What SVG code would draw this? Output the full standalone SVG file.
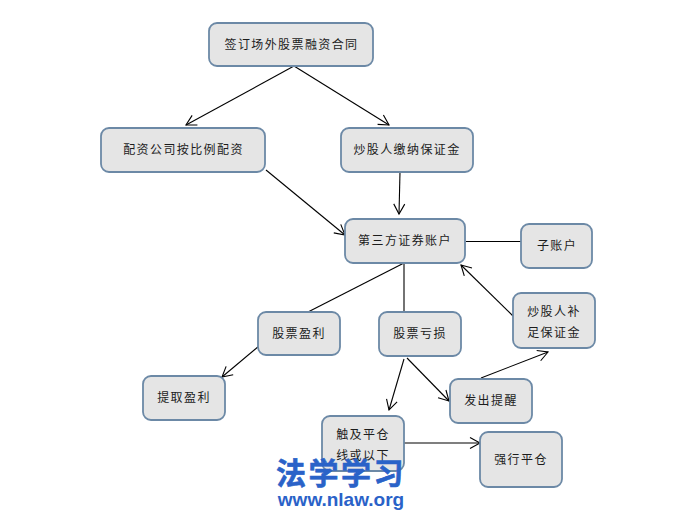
<svg xmlns="http://www.w3.org/2000/svg" width="683" height="518" viewBox="0 0 683 518">
<style>
.n{fill:#e5e5e5;stroke:#6c89a6;stroke-width:1.8}
.t{font-family:"Noto Sans CJK SC","Noto Sans",sans-serif;font-size:12px;letter-spacing:1.4px;fill:#1c1c1c;text-anchor:middle}
.c{fill:none;stroke:#000;stroke-width:1.1}
.w{font-weight:700;fill:#2a62c8;text-anchor:middle}
</style>
<defs>
<marker id="a" markerUnits="userSpaceOnUse" markerWidth="14" markerHeight="14" refX="11" refY="7" orient="auto"><path d="M1 1.5L11 7L1 12.500" fill="none" stroke="#000" stroke-width="1.1"/></marker>
</defs>
<rect width="683" height="518" fill="#fff"/>
<g id="connectors">
<path class="c" d="M294 66L186 125" marker-end="url(#a)"/>
<path class="c" d="M294 66L389 125" marker-end="url(#a)"/>
<path class="c" d="M266 170L345 235" marker-end="url(#a)"/>
<path class="c" d="M400 172L399 214" marker-end="url(#a)"/>
<path class="c" d="M466 241.500H521"/>
<path class="c" d="M404 263V312"/>
<path class="c" d="M404 263L308 312"/>
<path class="c" d="M513 316L461 265" marker-end="url(#a)"/>
<path class="c" d="M259 346L222 377" marker-end="url(#a)"/>
<path class="c" d="M404 359L389 410" marker-end="url(#a)"/>
<path class="c" d="M407 358L449 401" marker-end="url(#a)"/>
<path class="c" d="M481 378L548 352" marker-end="url(#a)"/>
<path class="c" d="M404 443H480" marker-end="url(#a)"/>
</g>
<g id="n1"><rect class="n" x="209" y="23" width="164" height="43" rx="8"/><text class="t" x="291.500" y="49">签订场外股票融资合同</text></g>
<g id="n2"><rect class="n" x="101" y="128" width="164" height="44" rx="8"/><text class="t" x="183.500" y="154">配资公司按比例配资</text></g>
<g id="n3"><rect class="n" x="341" y="128" width="132" height="44" rx="8"/><text class="t" x="407" y="154">炒股人缴纳保证金</text></g>
<g id="n4"><rect class="n" x="345" y="219" width="120" height="44" rx="8"/><text class="t" x="405" y="245">第三方证券账户</text></g>
<g id="n5"><rect class="n" x="521" y="224" width="71" height="44" rx="8"/><text class="t" x="557" y="250">子账户</text></g>
<g id="n6"><rect class="n" x="513" y="293" width="82" height="55" rx="8"/><text class="t" x="554" y="316">炒股人补</text><text class="t" x="554" y="337">足保证金</text></g>
<g id="n7"><rect class="n" x="379" y="312" width="82" height="44" rx="8"/><text class="t" x="420" y="338">股票亏损</text></g>
<g id="n8"><rect class="n" x="258" y="312" width="82" height="43" rx="8"/><text class="t" x="299" y="338">股票盈利</text></g>
<g id="n9"><rect class="n" x="143" y="376" width="82" height="44" rx="8"/><text class="t" x="184" y="402">提取盈利</text></g>
<g id="n10"><rect class="n" x="450" y="379" width="82" height="44" rx="8"/><text class="t" x="491" y="405">发出提醒</text></g>
<g id="n11"><rect class="n" x="322" y="416" width="82" height="55" rx="8"/><text class="t" x="363" y="439">触及平仓</text><text class="t" x="363" y="460">线或以下</text></g>
<g id="n12"><rect class="n" x="480" y="432" width="82" height="55" rx="8"/><text class="t" x="521" y="464">强行平仓</text></g>
<g id="watermark"><text class="w" x="341" y="484" font-size="30" letter-spacing="2.500" stroke="#2a62c8" stroke-width="0.6" style="font-family:'Noto Sans CJK SC',sans-serif">法学学习</text><text class="w" x="341" y="506" font-size="19" style="font-family:'Liberation Sans',sans-serif">www.nlaw.org</text></g>
</svg>
